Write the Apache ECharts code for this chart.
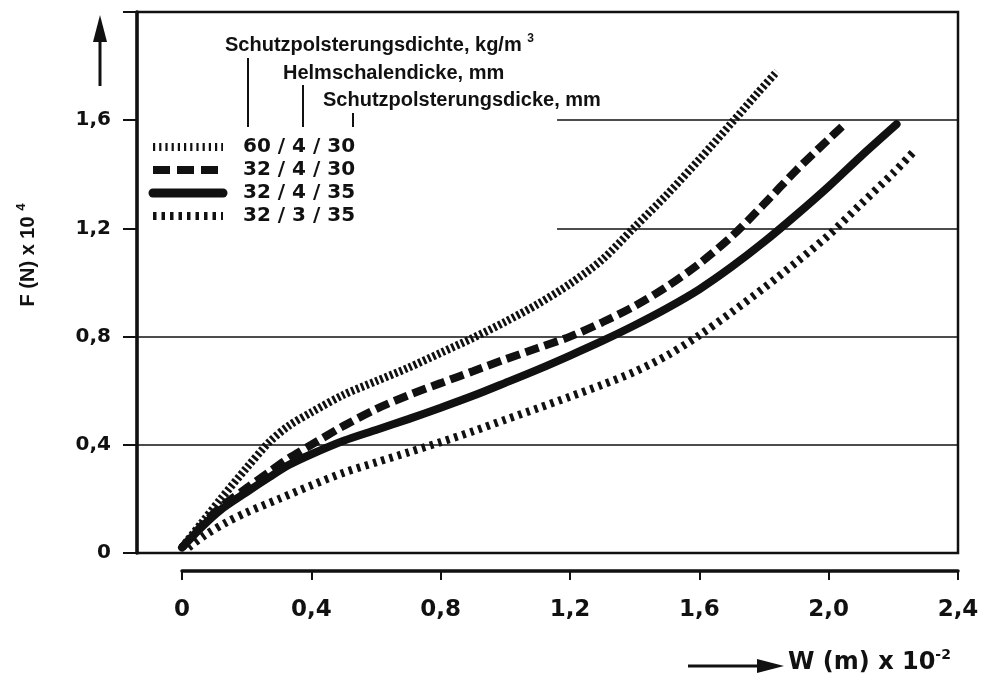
<!DOCTYPE html>
<html><head><meta charset="utf-8">
<script src="https://cdn.jsdelivr.net/npm/echarts@6/dist/echarts.min.js"></script>
<style>html,body{margin:0;padding:0;background:#fff}#c{width:982px;height:682px}</style>
</head><body><div id="c"></div>
<script>
// ---------- data ----------
const seriesNames = ['60 / 4 / 30', '32 / 4 / 30', '32 / 4 / 35', '32 / 3 / 35'];

const w_60_4_30 = [0, 0.06, 0.12, 0.20, 0.27, 0.33, 0.40, 0.50, 0.60, 0.70, 0.80, 0.90, 1.00, 1.10, 1.20, 1.30, 1.40, 1.50, 1.60, 1.70, 1.78, 1.84];
const f_60_4_30 = [0.02, 0.11, 0.20, 0.315, 0.41, 0.47, 0.52, 0.585, 0.635, 0.685, 0.74, 0.795, 0.855, 0.92, 0.995, 1.085, 1.205, 1.325, 1.455, 1.59, 1.70, 1.78];

const w_32_4_30 = [0, 0.06, 0.12, 0.20, 0.27, 0.33, 0.40, 0.50, 0.60, 0.70, 0.80, 0.90, 1.00, 1.10, 1.20, 1.30, 1.40, 1.50, 1.60, 1.70, 1.80, 1.90, 2.00, 2.045];
const f_32_4_30 = [0.02, 0.10, 0.17, 0.24, 0.30, 0.35, 0.40, 0.47, 0.532, 0.583, 0.628, 0.672, 0.716, 0.758, 0.80, 0.853, 0.913, 0.985, 1.07, 1.17, 1.29, 1.415, 1.53, 1.58];

const w_32_4_35 = [0, 0.06, 0.12, 0.20, 0.27, 0.33, 0.40, 0.50, 0.60, 0.70, 0.80, 0.90, 1.00, 1.10, 1.20, 1.30, 1.40, 1.50, 1.60, 1.70, 1.80, 1.90, 2.00, 2.10, 2.21];
const f_32_4_35 = [0.02, 0.095, 0.16, 0.225, 0.28, 0.325, 0.365, 0.415, 0.455, 0.495, 0.537, 0.581, 0.629, 0.678, 0.73, 0.784, 0.842, 0.905, 0.975, 1.058, 1.15, 1.25, 1.355, 1.467, 1.585];

const w_32_3_35 = [0.02, 0.07, 0.14, 0.20, 0.30, 0.40, 0.50, 0.60, 0.70, 0.80, 0.90, 1.00, 1.10, 1.20, 1.30, 1.40, 1.50, 1.60, 1.70, 1.80, 1.90, 2.00, 2.10, 2.20, 2.26];
const f_32_3_35 = [0.02, 0.065, 0.115, 0.15, 0.20, 0.25, 0.297, 0.335, 0.372, 0.41, 0.45, 0.493, 0.535, 0.578, 0.622, 0.67, 0.73, 0.805, 0.89, 0.98, 1.075, 1.175, 1.29, 1.405, 1.48];

const xTickLabels = ['0', '0,4', '0,8', '1,2', '1,6', '2,0', '2,4'];
const yTickLabels = ['0', '0,4', '0,8', '1,2', '1,6', ''];
const fullGridLevels = [0.4, 0.8];
const partialGridLevels = [1.2, 1.6];
const partialGridStartW = 1.16;

const headerTexts = ['Schutzpolsterungsdichte, kg/m ', 'Helmschalendicke, mm', 'Schutzpolsterungsdicke, mm'];

// ---------- layout ----------
const PX_LEFT = 137, PX_RIGHT = 958, PX_TOP = 12, PX_BOTTOM = 553, PX_X0 = 182;
const X_MAX = 2.4, Y_MAX = 2.0;
const xMinHidden = -X_MAX * (PX_X0 - PX_LEFT) / (PX_RIGHT - PX_X0);

const INK = '#111';
const styles = [
  { width: 8, type: [2.8, 2.4], cap: 'butt' },
  { width: 8, type: [14, 6], cap: 'butt' },
  { width: 8, type: 'solid', cap: 'round' },
  { width: 8, type: [3.5, 5], cap: 'butt' }
];
const legendDash = [[2.2, 4], [17, 7], null, [3.5, 5]];

function pairs(xs, ys) { return xs.map((x, i) => [x, ys[i]]); }
const allData = [
  pairs(w_60_4_30, f_60_4_30),
  pairs(w_32_4_30, f_32_4_30),
  pairs(w_32_4_35, f_32_4_35),
  pairs(w_32_3_35, f_32_3_35)
];

const markData = fullGridLevels.map(v => ({ yAxis: v }))
  .concat(partialGridLevels.map(v => [{ coord: [partialGridStartW, v] }, { coord: [X_MAX, v] }]));

const series = allData.map((d, i) => ({
  name: seriesNames[i],
  type: 'line',
  xAxisIndex: 0, yAxisIndex: 0,
  data: d,
  smooth: 0.3,
  showSymbol: false,
  symbol: 'none',
  lineStyle: Object.assign({ color: INK }, styles[i]),
  z: 3,
  markLine: i === 2 ? {
    silent: true, symbol: 'none', animation: false,
    label: { show: false },
    lineStyle: { color: INK, width: 1.6, type: 'solid' },
    data: markData,
    z: 1
  } : undefined
}));

const sansB = "'Liberation Sans', Arial, sans-serif";
const wideB = "'DejaVu Sans', sans-serif";

const graphic = [];
// legend
const legY = [147, 170, 193, 216];
seriesNames.forEach((n, i) => {
  graphic.push({
    type: 'line', shape: { x1: 153, y1: legY[i], x2: 223, y2: legY[i] },
    style: { stroke: INK, lineWidth: i === 2 ? 9 : 8, lineDash: legendDash[i], lineCap: i === 2 ? 'round' : 'butt' },
    z: 10
  });
  graphic.push({
    type: 'text', x: 243, y: legY[i],
    style: { text: n, font: 'bold 20px ' + wideB, fill: INK, textVerticalAlign: 'middle', verticalAlign: 'middle' },
    z: 10
  });
});
// header texts
graphic.push({ type: 'text', x: 225, y: 45, style: {
  text: '{a|' + headerTexts[0] + '}{s|3}', verticalAlign: 'middle', textVerticalAlign: 'middle',
  rich: { a: { font: 'bold 20px ' + sansB, fill: INK, lineHeight: 24 }, s: { font: 'bold 12px ' + sansB, fill: INK, verticalAlign: 'top', lineHeight: 24 } }
}, z: 10 });
graphic.push({ type: 'text', x: 283, y: 73, style: { text: headerTexts[1], font: 'bold 20px ' + sansB, fill: INK, verticalAlign: 'middle', textVerticalAlign: 'middle' }, z: 10 });
graphic.push({ type: 'text', x: 323, y: 100, style: { text: headerTexts[2], font: 'bold 20px ' + sansB, fill: INK, verticalAlign: 'middle', textVerticalAlign: 'middle' }, z: 10 });
[[248, 58], [303, 85], [353, 113]].forEach(p => graphic.push({
  type: 'line', shape: { x1: p[0], y1: p[1], x2: p[0], y2: 127 }, style: { stroke: INK, lineWidth: 2 }, z: 10
}));
// y arrow
graphic.push({ type: 'line', shape: { x1: 100, y1: 86, x2: 100, y2: 38 }, style: { stroke: INK, lineWidth: 3 }, z: 10 });
graphic.push({ type: 'polygon', shape: { points: [[100, 15], [93, 42], [107, 42]] }, style: { fill: INK }, z: 10 });
// x arrow
graphic.push({ type: 'line', shape: { x1: 688, y1: 666, x2: 760, y2: 666 }, style: { stroke: INK, lineWidth: 3 }, z: 10 });
graphic.push({ type: 'polygon', shape: { points: [[784, 666], [757, 659], [757, 673]] }, style: { fill: INK }, z: 10 });
// axis titles
graphic.push({ type: 'text', x: 28, y: 255, rotation: Math.PI / 2, style: {
  text: '{a|F (N) x 10 }{s|4}', align: 'center', verticalAlign: 'middle', textAlign: 'center', textVerticalAlign: 'middle',
  rich: { a: { font: 'bold 20px ' + sansB, fill: INK, lineHeight: 26 }, s: { font: 'bold 13px ' + sansB, fill: INK, verticalAlign: 'top', lineHeight: 26 } }
}, z: 10 });
graphic.push({ type: 'text', x: 788, y: 663, style: {
  text: '{a|W (m) x 10}{s|-2}', verticalAlign: 'middle', textVerticalAlign: 'middle',
  rich: { a: { font: 'bold 24px ' + wideB, fill: INK, lineHeight: 30 }, s: { font: 'bold 14px ' + wideB, fill: INK, verticalAlign: 'top', lineHeight: 30 } }
}, z: 10 });

const option = {
  animation: false,
  backgroundColor: '#fff',
  grid: [
    { left: PX_LEFT, top: PX_TOP, width: PX_RIGHT - PX_LEFT, height: PX_BOTTOM - PX_TOP, show: true, borderColor: INK, borderWidth: 2.5, backgroundColor: 'transparent' },
    { left: PX_X0, top: 561, width: PX_RIGHT - PX_X0, height: 10 }
  ],
  xAxis: [
    { gridIndex: 0, type: 'value', min: xMinHidden, max: X_MAX, show: false },
    { gridIndex: 1, type: 'value', min: 0, max: X_MAX, interval: 0.4, position: 'bottom',
      axisLine: { show: true, onZero: false, lineStyle: { color: INK, width: 3.5 } },
      axisTick: { show: true, inside: false, length: 9, lineStyle: { color: INK, width: 2 } },
      axisLabel: { margin: 28, color: INK, fontSize: 23, fontWeight: 'bold', fontFamily: wideB,
        formatter: (v, i) => xTickLabels[i] },
      splitLine: { show: false } }
  ],
  yAxis: [
    { gridIndex: 0, type: 'value', min: 0, max: Y_MAX, interval: 0.4, position: 'left',
      axisLine: { show: true, onZero: false, lineStyle: { color: INK, width: 3.5 } },
      axisTick: { show: true, inside: false, length: 14, lineStyle: { color: INK, width: 2 } },
      axisLabel: { margin: 26, color: INK, fontSize: 20, fontWeight: 'bold', fontFamily: wideB,
        formatter: (v, i) => yTickLabels[i] },
      splitLine: { show: false } },
    { gridIndex: 1, type: 'value', show: false }
  ],
  series: series,
  graphic: graphic
};
const chart = echarts.init(document.getElementById('c'), null, { renderer: 'canvas' });
chart.setOption(option);
</script>
</body></html>
